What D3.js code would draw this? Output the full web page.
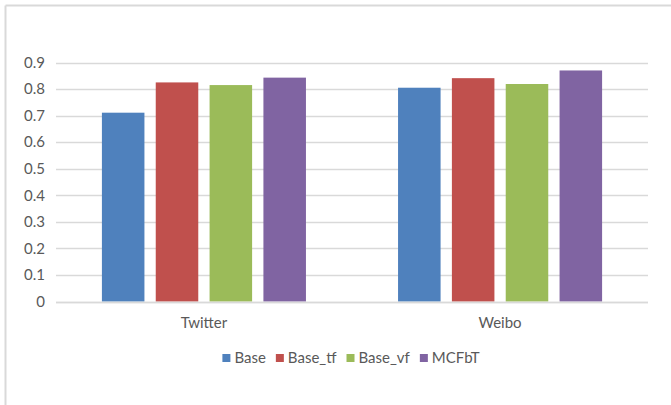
<!DOCTYPE html>
<html><head><meta charset="utf-8">
<script src="https://cdn.jsdelivr.net/npm/d3@7"></script>
<style>
body{margin:0;background:#fff;}
svg{display:block;font-family:Lato,"Open Sans",sans-serif;}
</style></head>
<body>
<svg id="chart" width="671" height="405"></svg>
<script>
const categories = ["Twitter", "Weibo"];
const seriesNames = ["Base", "Base_tf", "Base_vf", "MCFbT"];
const seriesColors = ["#4f81bd", "#c0504d", "#9bbb59", "#8064a2"];
const baseValues = [0.711, 0.805];
const baseTfValues = [0.825, 0.841];
const baseVfValues = [0.815, 0.819];
const mcfbtValues = [0.843, 0.870];
const yTicks = [0, 0.1, 0.2, 0.3, 0.4, 0.5, 0.6, 0.7, 0.8, 0.9];

const seriesValues = [baseValues, baseTfValues, baseVfValues, mcfbtValues];

const svg = d3.select("#chart");
const W = 671, H = 405;
const mLeft = 56, mRight = 648, mTop = 62.5, mBottom = 301.5;
const FS = 15;
const textColor = "#595959";

svg.append("line").attr("x1", 5.5).attr("x2", W).attr("y1", 5.5).attr("y2", 5.5)
  .attr("stroke", "#d9d9d9").attr("stroke-width", 2);
svg.append("line").attr("x1", 5.5).attr("x2", 5.5).attr("y1", 5.5).attr("y2", H)
  .attr("stroke", "#d9d9d9").attr("stroke-width", 2);

const y = d3.scaleLinear().domain([0, 0.9]).range([mBottom, mTop]);
const x0 = d3.scaleBand().domain(categories).range([mLeft, mRight])
  .paddingInner(0.311).paddingOuter(0.155);
const x1 = d3.scaleBand().domain(seriesNames).range([0, x0.bandwidth()])
  .paddingInner(0.21).paddingOuter(0);

svg.append("g").selectAll("line").data(yTicks).join("line")
  .attr("x1", mLeft).attr("x2", mRight)
  .attr("y1", d => Math.round(y(d)) + 0.5).attr("y2", d => Math.round(y(d)) + 0.5)
  .attr("stroke", "#d9d9d9").attr("stroke-width", 1.5);

svg.append("g").selectAll("text").data(yTicks).join("text")
  .attr("x", 45).attr("y", d => y(d)).attr("dy", "0.35em")
  .attr("text-anchor", "end").attr("fill", textColor).attr("font-size", FS)
  .text(d => d === 0 ? "0" : d3.format(".1f")(d));

const groups = svg.append("g").selectAll("g").data(categories).join("g")
  .attr("transform", c => `translate(${x0(c)},0)`);
groups.selectAll("rect")
  .data((c, ci) => seriesNames.map((s, si) => ({ s, si, v: seriesValues[si][ci] })))
  .join("rect")
  .attr("x", d => x1(d.s)).attr("width", x1.bandwidth())
  .attr("y", d => y(d.v)).attr("height", d => y(0) - y(d.v))
  .attr("fill", d => seriesColors[d.si]);

svg.append("line").attr("x1", mLeft).attr("x2", mRight)
  .attr("y1", Math.round(y(0)) + 0.5).attr("y2", Math.round(y(0)) + 0.5)
  .attr("stroke", "#d9d9d9").attr("stroke-width", 1.5);

svg.append("g").selectAll("text").data(categories).join("text")
  .attr("x", c => x0(c) + x0.bandwidth() / 2).attr("y", 323).attr("dy", "0.35em")
  .attr("text-anchor", "middle").attr("fill", textColor).attr("font-size", FS)
  .text(c => c);

// legend, laid out from measured text widths and centred
const legend = svg.append("g");
const items = legend.selectAll("g").data(seriesNames).join("g");
items.append("rect").attr("x", 0).attr("y", -4).attr("width", 8).attr("height", 8)
  .attr("fill", (d, i) => seriesColors[i]);
items.append("text").attr("x", 12).attr("y", 0).attr("dy", "0.35em")
  .attr("fill", textColor).attr("font-size", FS).text(d => d);
let cx = 0;
items.each(function () {
  const w = 12 + this.querySelector("text").getComputedTextLength();
  d3.select(this).attr("transform", `translate(${cx},0)`);
  cx += w + 10;
});
const totalW = cx - 10;
legend.attr("transform", `translate(${351 - totalW / 2},358)`);
</script>
</body></html>
